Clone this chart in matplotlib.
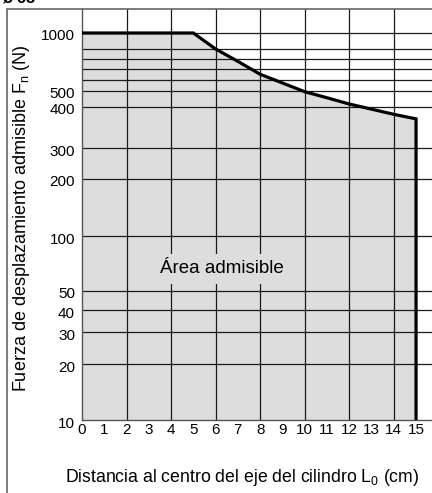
import matplotlib
matplotlib.use('agg')
import matplotlib.pyplot as plt
import matplotlib.transforms as mtransforms
from matplotlib.patches import Rectangle
import numpy as np

plt.rcParams['font.family'] = ['Liberation Sans', 'DejaVu Sans']
plt.rcParams['mathtext.fontset'] = 'custom'
plt.rcParams['mathtext.rm'] = 'Liberation Sans'
plt.rcParams['mathtext.default'] = 'regular'

# boundary of the admissible area
dist = [0, 5, 6, 7, 8, 9, 10, 11, 12, 13, 14, 15]
force = [1000, 1000, 900, 775, 650, 571, 495, 455, 417, 394, 380, 368]
force_min = 10

x_ticks = list(range(16))
x_grid = [2, 4, 6, 8, 10, 12, 14]
x_minor = [1, 3, 5, 7, 9, 11, 13]
y_ticks = [10, 20, 30, 40, 50, 100, 200, 300, 400, 500, 1000]
y_grid = [20, 30, 40, 50, 100, 200, 300, 400, 500, 600, 700, 800, 900, 1000]

# the printed chart uses a hand drawn, not quite logarithmic, force axis:
# log10(value) -> height in pixels above the x axis
scale_log = [0, 1, np.log10(20), np.log10(30), np.log10(40), np.log10(50), 2,
             np.log10(200), np.log10(300), np.log10(400), np.log10(500),
             np.log10(600), np.log10(700), np.log10(800), np.log10(900), 3, 4]
scale_px = [-185, 0, 56, 88, 110, 129, 184, 241, 272, 313, 329,
            340, 351, 361, 371, 387, 587]


def fwd(v):
    lv = np.log10(np.clip(np.asarray(v, dtype=float), 1e-6, None))
    return np.interp(lv, scale_log, scale_px)


def inv(p):
    return 10 ** np.interp(np.asarray(p, dtype=float), scale_px, scale_log)


fill = '#dddddd'

fig = plt.figure(figsize=(4.32, 4.93), dpi=100)
W, H = 432, 493
ax = fig.add_axes([82 / W, (H - 420) / H, 1 - 82 / W, (420 - 9) / H])
ax.set_yscale('function', functions=(fwd, inv))
ax.set_xlim(0, (W - 82) / 22.27)
ax.set_ylim(force_min, float(inv(411)))

ax.fill_between(dist, force, force_min, color=fill, lw=0, zorder=0.5)
for v in x_grid:
    ax.axvline(v, color='#1a1a1a', lw=0.9, zorder=1)
for v in y_grid:
    ax.axhline(v, color='#1a1a1a', lw=0.9, zorder=1)
ax.plot(dist + [dist[-1]], force + [force_min], color='black', lw=2.3,
        solid_joinstyle='miter', zorder=3)

ax.text(6.3, 66, 'Área admisible', ha='center', va='center', fontsize=13.5,
        zorder=4, bbox=dict(boxstyle='square,pad=0.35', fc=fill, ec='none'))

ax.set_xticks(x_ticks)
ax.set_xticks(x_minor, minor=True)
ax.set_yticks(y_ticks)
ax.set_yticks([], minor=True)
ax.set_yticklabels([str(v) for v in y_ticks])
ax.tick_params(axis='both', which='major', length=0, labelsize=11)
ax.tick_params(axis='x', which='major', pad=2)
ax.tick_params(axis='y', which='major', pad=5)
ax.tick_params(axis='x', which='minor', direction='in', length=6.5,
               width=0.9, color='#1a1a1a')
off = mtransforms.ScaledTranslation(0, -2 / 100, fig.dpi_scale_trans)
for lab in ax.get_yticklabels():
    lab.set_transform(lab.get_transform() + off)

for s in ['top', 'right']:
    ax.spines[s].set_visible(False)
for s in ['left', 'bottom']:
    ax.spines[s].set_color('#555555')
    ax.spines[s].set_linewidth(1.0)

# outer frame of the printed figure
fig.add_artist(Rectangle((7 / W, -0.1), 1.0, 1.1 - 9 / H,
                         transform=fig.transFigure, fill=False,
                         ec='#666666', lw=1.2))
fig.text(0.005, 1 - 2.5 / H, 'ø 63', fontsize=12, fontweight='bold',
         va='baseline', ha='left')

fig.text(242 / W, 1 - 477 / H,
         'Distancia al centro del eje del cilindro L$_{0}$ (cm)',
         ha='center', va='center', fontsize=12.7)
fig.text(22 / W, 1 - 218 / H,
         'Fuerza de desplazamiento admisible F$_{n}$ (N)',
         ha='center', va='center', rotation=90, fontsize=13)

fig.savefig('out.png', dpi=100)
